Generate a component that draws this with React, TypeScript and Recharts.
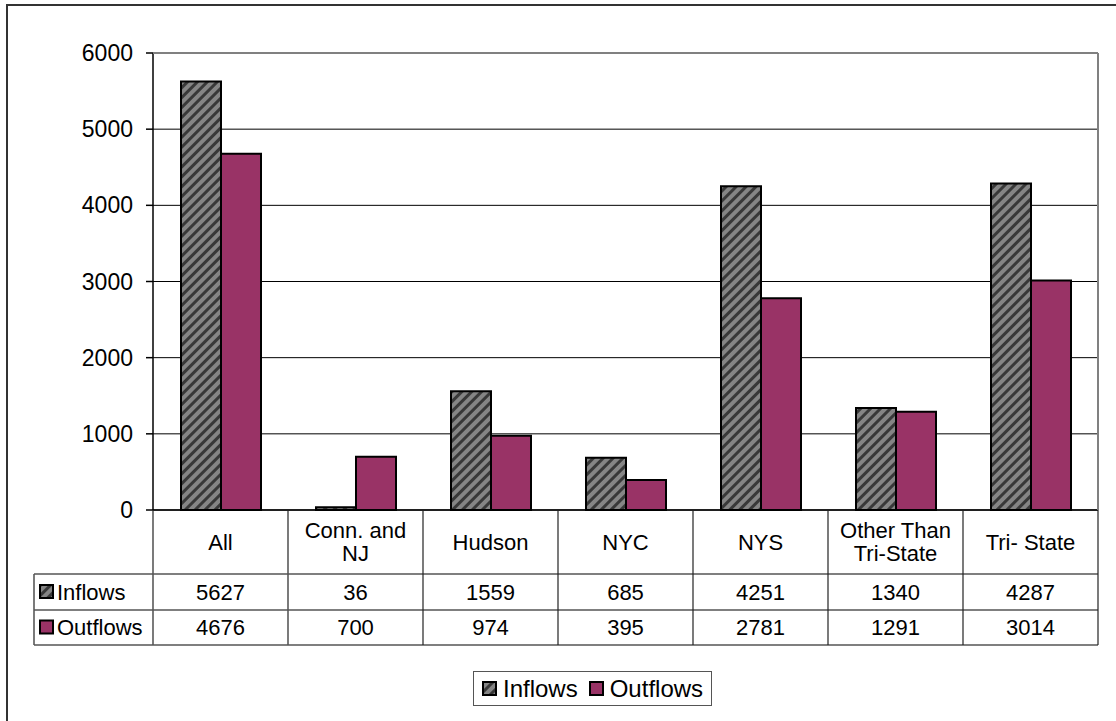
import { Bar, BarChart, CartesianGrid, XAxis, YAxis } from "recharts";

const categories = ["All", "Conn. and NJ", "Hudson", "NYC", "NYS", "Other Than Tri-State", "Tri- State"];
const inflows = [5627, 36, 1559, 685, 4251, 1340, 4287];
const outflows = [4676, 700, 974, 395, 2781, 1291, 3014];
const yTicks = [0, 1000, 2000, 3000, 4000, 5000, 6000];
const seriesNames = ["Inflows", "Outflows"];

const data = categories.map((name, i) => ({
  name,
  inflows: inflows[i],
  outflows: outflows[i]
}));

// layout (px)
const W = 1116;
const H = 721;
const PLOT_L = 153;
const PLOT_T = 53;
const PLOT_R = 1098;
const AXIS_Y = 510;
const ROW1 = 574;
const ROW2 = 610;
const TABLE_B = 645;
const TABLE_L = 34;
const BAND = (PLOT_R - PLOT_L) / categories.length;

const FONT = "'Liberation Sans', Arial, sans-serif";
const FS = 22;
const LINE_H = 23;
const MAX_CHARS = 11;
const PLUM = "#993366";

// simple word wrap by character count (the cells wrap like Excel's)
function wrap(label: string): string[] {
  const lines: string[] = [];
  let cur = "";
  for (const w of label.split(" ")) {
    const next = cur ? cur + " " + w : w;
    if (next.length > MAX_CHARS && cur) {
      lines.push(cur);
      cur = w;
    } else {
      cur = next;
    }
  }
  if (cur) lines.push(cur);
  return lines;
}

function HatchDefs({ id }: { id: string }) {
  return (
    <defs>
      <pattern
        id={id}
        patternUnits="userSpaceOnUse"
        width={7}
        height={7}
        patternTransform="rotate(45)"
      >
        <rect width={7} height={7} fill="#858585" />
        <rect width={3} height={7} fill="#383838" />
      </pattern>
    </defs>
  );
}

function Key({ hatch }: { hatch: boolean }) {
  return (
    <svg width={15} height={15} style={{ display: "block" }}>
      {hatch && <HatchDefs id="hatchKey" />}
      <rect
        x={1}
        y={1}
        width={13}
        height={13}
        fill={hatch ? "url(#hatchKey)" : PLUM}
        stroke="#000"
        strokeWidth={2}
      />
    </svg>
  );
}

function TableTick(props: any) {
  const { x, y, payload, index } = props;
  const half = BAND / 2;
  const last = index === categories.length - 1;
  const lines = wrap(String(payload.value));
  const midY = (y + ROW1) / 2;
  const firstY = midY - ((lines.length - 1) * LINE_H) / 2;
  return (
    <g fontFamily={FONT} fontSize={FS} fill="#000">
      <line x1={x + half} y1={y} x2={x + half} y2={TABLE_B} stroke="#222" strokeWidth={1.2} />
      {index === 0 && (
        <g>
          <line x1={x - half} y1={y} x2={x - half} y2={TABLE_B} stroke="#222" strokeWidth={1.2} />
          <line x1={TABLE_L} y1={ROW1} x2={TABLE_L} y2={TABLE_B} stroke="#222" strokeWidth={1.2} />
          <line x1={TABLE_L} y1={ROW1} x2={PLOT_R} y2={ROW1} stroke="#555" strokeWidth={1.5} />
          <line x1={TABLE_L} y1={ROW2} x2={PLOT_R} y2={ROW2} stroke="#555" strokeWidth={1.5} />
          <line x1={TABLE_L} y1={TABLE_B} x2={PLOT_R} y2={TABLE_B} stroke="#555" strokeWidth={1.5} />
          <rect x={TABLE_L + 6} y={(ROW1 + ROW2) / 2 - 7} width={13} height={13} fill="url(#hatch)" stroke="#000" strokeWidth={2} />
          <text x={TABLE_L + 23} y={(ROW1 + ROW2) / 2} dy="0.355em">{seriesNames[0]}</text>
          <rect x={TABLE_L + 6} y={(ROW2 + TABLE_B) / 2 - 7} width={13} height={13} fill={PLUM} stroke="#000" strokeWidth={2} />
          <text x={TABLE_L + 23} y={(ROW2 + TABLE_B) / 2} dy="0.355em">{seriesNames[1]}</text>
        </g>
      )}
      {last && (
        <g>
          <line x1={PLOT_L} y1={PLOT_T} x2={PLOT_R} y2={PLOT_T} stroke="#808080" strokeWidth={2} />
          <line x1={PLOT_R} y1={PLOT_T} x2={PLOT_R} y2={AXIS_Y} stroke="#808080" strokeWidth={2} />
        </g>
      )}
      {lines.map((ln, i) => (
        <text key={i} x={x} y={firstY + i * LINE_H} dy="0.355em" textAnchor="middle">
          {ln}
        </text>
      ))}
      <text x={x} y={(ROW1 + ROW2) / 2} dy="0.355em" textAnchor="middle">
        {inflows[index]}
      </text>
      <text x={x} y={(ROW2 + TABLE_B) / 2} dy="0.355em" textAnchor="middle">
        {outflows[index]}
      </text>
    </g>
  );
}

export default function App() {
  return (
    <div
      style={{
        position: "absolute",
        left: 0,
        top: 0,
        width: W,
        height: H,
        overflow: "hidden",
        background: "#fff"
      }}
    >
      <div
        style={{
          position: "absolute",
          left: 6,
          top: 4,
          width: W + 40,
          height: H + 40,
          border: "2px solid #333"
        }}
      />
      <div style={{ position: "absolute", left: 0, top: 0 }}>
        <BarChart
          width={W}
          height={H}
          data={data}
          margin={{ top: PLOT_T, right: W - PLOT_R, left: 0, bottom: H - TABLE_B }}
          barCategoryGap={28}
          barGap={0}
        >
          <HatchDefs id="hatch" />
          <CartesianGrid vertical={false} stroke="#000" strokeWidth={1} />
          <XAxis
            dataKey="name"
            height={TABLE_B - AXIS_Y}
            interval={0}
            tickLine={false}
            tickSize={0}
            tickMargin={0}
            axisLine={{ stroke: "#000", strokeWidth: 1.5 }}
            tick={<TableTick />}
          />
          <YAxis
            width={PLOT_L}
            domain={[0, 6000]}
            ticks={yTicks}
            interval={0}
            tickSize={7}
            tickMargin={13}
            axisLine={{ stroke: "#000", strokeWidth: 1.5 }}
            tickLine={{ stroke: "#000", strokeWidth: 1.5 }}
            tick={{ fill: "#000", fontSize: 23, fontFamily: FONT }}
          />
          <Bar
            dataKey="inflows"
            name={seriesNames[0]}
            fill="url(#hatch)"
            stroke="#000"
            strokeWidth={2}
            isAnimationActive={false}
          />
          <Bar
            dataKey="outflows"
            name={seriesNames[1]}
            fill={PLUM}
            stroke="#000"
            strokeWidth={2}
            isAnimationActive={false}
          />
        </BarChart>
      </div>
      <div
        style={{
          position: "absolute",
          left: 473,
          top: 671,
          width: 229,
          height: 33,
          border: "1px solid #555",
          display: "flex",
          alignItems: "center",
          paddingLeft: 8,
          boxSizing: "content-box",
          fontFamily: FONT,
          fontSize: 24,
          color: "#000"
        }}
      >
        <Key hatch />
        <span style={{ marginLeft: 6, marginRight: 11 }}>{seriesNames[0]}</span>
        <Key hatch={false} />
        <span style={{ marginLeft: 6 }}>{seriesNames[1]}</span>
      </div>
    </div>
  );
}
